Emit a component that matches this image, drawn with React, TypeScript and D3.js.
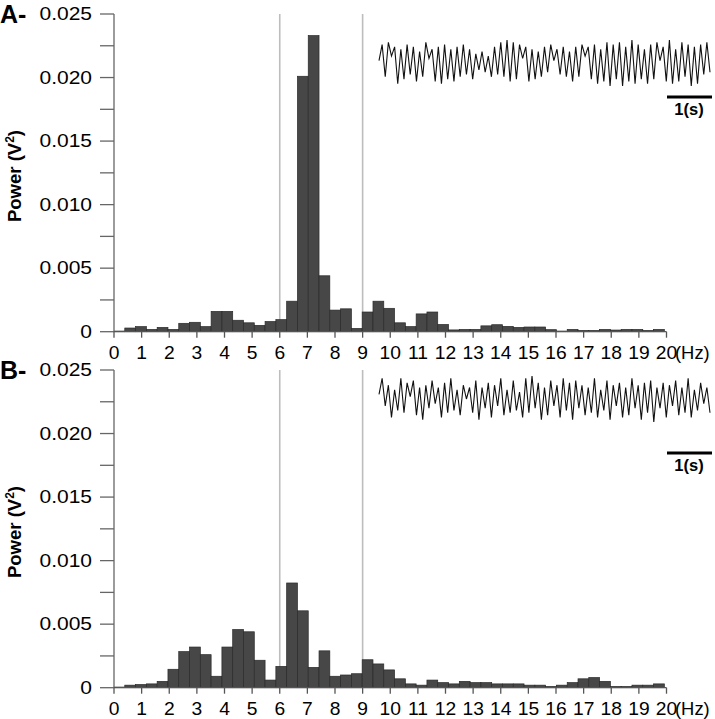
import React from "react";
import * as d3 from "d3";

// Frequency bin width (Hz) of the power spectra
const BIN_HZ = 0.390625;

// Power (V^2) per bin, panel A
const powerA = [
  0.00005, 0.00029, 0.0004, 0.00018, 0.00034, 0.00018, 0.00066, 0.00074, 0.0004, 0.0016,
  0.0016, 0.0009, 0.0007, 0.0005, 0.0008, 0.00095, 0.0024, 0.0201, 0.0233, 0.0044,
  0.0017, 0.0018, 0.00026, 0.00155, 0.0024, 0.00184, 0.0007, 0.0004, 0.0014, 0.00155,
  0.00057, 0.00014, 0.00018, 0.00018, 0.00046, 0.00055, 0.00042, 0.00034, 0.00037, 0.00037,
  0.00016, 0.00005, 0.00018, 0.0001, 0.0001, 0.00018, 0.00013, 0.00018, 0.00018, 0.0001,
  0.00018,
];

// Power (V^2) per bin, panel B
const powerB = [
  0.00005, 0.0002, 0.00025, 0.0003, 0.0005, 0.00145, 0.00284, 0.0032, 0.0026, 0.0009,
  0.0032, 0.00458, 0.0044, 0.00216, 0.0006, 0.00168, 0.00824, 0.00605, 0.0016, 0.0029,
  0.0009, 0.001, 0.0011, 0.0022, 0.00187, 0.0014, 0.0007, 0.0003, 0.0002, 0.0006,
  0.0004, 0.0003, 0.0005, 0.0004, 0.0004, 0.0003, 0.0003, 0.0003, 0.0002, 0.0002,
  0.0001, 0.0002, 0.0004, 0.0007, 0.0008, 0.0005, 0.0001, 0.0001, 0.0002, 0.0002,
  0.0003,
];

// Raw EEG inset traces (relative amplitude)
const traceA = [
  0.1, 0.8, -0.6, 0.9, 0.3, 0.7, -0.9, 0.6, -0.7, 0.8, -0.5, 0.7, -0.8, 0.5, -0.6, 0.9, 0.2, 0.6,
  -0.8, 0.7, -0.9, 0.8, -0.7, 0.6, -0.8, 0.7, -0.6, 0.8, -0.5, 0.6, -0.7, 0.4, -0.3, 0.5, -0.4, 0.3,
  -0.6, 0.7, -0.5, 0.9, -0.6, 1.0, -0.8, 0.9, -0.7, 0.8, 0.2, 0.7, -0.8, 0.6, -0.7, 0.5, -0.6, 0.7,
  -0.4, 0.8, 0.1, 0.6, -0.5, 0.7, -0.6, 0.5, -0.8, 0.7, -0.6, 0.8, 0.3, 0.7, -0.7, 0.8, -0.9, 0.6,
  -0.8, 0.9, -1.0, 0.8, -0.7, 0.9, -1.0, 0.7, -0.8, 1.0, -0.9, 0.8, -0.7, 0.6, -0.9, 0.8, -0.7, 0.9,
  0.1, 0.7, -0.8, 1.0, -0.9, 0.6, -0.8, 0.9, -0.6, 0.8, -1.0, 0.7, -0.9, 0.8, -0.5, 0.9, -0.4,
];
const traceB = [
  0.2, 0.9, -0.3, 0.6, -0.8, 0.4, -0.5, 0.9, -0.6, 0.7, 0.1, 0.8, -0.7, 0.5, -0.9, 0.6, -0.4, 0.8,
  -0.2, 0.5, -0.8, 0.7, -0.6, 0.9, -0.5, 0.4, -0.7, 0.6, 0.0, 0.5, -0.6, 0.8, -0.9, 0.5, -0.4, 0.7,
  -0.8, 0.6, -0.3, 0.9, -0.7, 0.4, -0.6, 0.8, -0.5, 0.3, -0.8, 0.9, -0.6, 1.0, -0.4, 0.7, -0.9, 0.5,
  -0.7, 0.8, -0.3, 0.6, -0.8, 0.9, -0.5, 0.7, -0.9, 0.8, -0.4, 0.6, -0.7, 0.5, -0.6, 0.9, -0.8, 0.4,
  -0.5, 0.8, -0.9, 0.6, -0.3, 0.7, -0.8, 0.5, -0.7, 0.9, -0.4, 0.6, -0.9, 0.7, -0.6, 0.8, -1.0, 0.5,
  -0.4, 0.7, -0.8, 0.6, -0.3, 0.8, -0.7, 0.5, -0.6, 0.9, -0.8, 0.4, -0.5, 0.7, -0.2, 0.5, -0.6,
];

const yTickValues = d3.range(0, 11).map((i) => i * 0.0025);
const xTickValues = d3.range(0, 21);
const bandLines = [6, 9];
const panelLabels = ["A-", "B-"];

const FONT = "'Liberation Sans', Arial, Helvetica, sans-serif";

type PanelProps = {
  top: number;
  label: string;
  power: number[];
  trace: number[];
  traceY: number;
  barY: number;
};

function Panel({ top, label, power, trace, traceY, barY }: PanelProps) {
  const zeroY = top + 317.7;
  const x = d3.scaleLinear().domain([0, 20]).range([114, 666.5]);
  const y = d3.scaleLinear().domain([0, 0.025]).range([zeroY, top]);
  const bw = x(BIN_HZ) - x(0);

  const tx = d3.scaleLinear().domain([0, trace.length - 1]).range([379, 710]);
  const ty = d3.scaleLinear().domain([-1, 1]).range([traceY + 23, traceY - 23]);
  const line = d3
    .line<number>()
    .x((_, i) => tx(i))
    .y((d) => ty(d));

  return (
    <g>
      <text x={0} y={top + 9} fontFamily={FONT} fontWeight="bold" fontSize={25}>
        {label}
      </text>
      <text
        transform={`translate(21,${top + 162}) rotate(-90)`}
        textAnchor="middle"
        fontFamily={FONT}
        fontWeight="bold"
        fontSize={18.5}
      >
        Power (V<tspan fontSize={12} dy={-7}>2</tspan>
        <tspan dy={7}>)</tspan>
      </text>
      {bandLines.map((f) => (
        <line key={f} x1={x(f)} x2={x(f)} y1={top} y2={zeroY} stroke="#bdbdbd" strokeWidth={1.6} />
      ))}
      {power.map((p, k) => (
        <rect
          key={k}
          x={x(k * BIN_HZ)}
          y={y(p)}
          width={bw}
          height={zeroY - y(p)}
          fill="#474747"
          stroke="#2a2a2a"
          strokeWidth={0.7}
        />
      ))}
      <line x1={114} x2={114} y1={top} y2={zeroY} stroke="#666" strokeWidth={1.3} />
      {yTickValues.map((v, i) => (
        <g key={i}>
          <line x1={100} x2={114} y1={y(v)} y2={y(v)} stroke="#666" strokeWidth={1.3} />
          {i % 2 === 0 && (
            <text
              transform={`translate(92,${y(v)}) scale(1.2,1)`}
              textAnchor="end"
              dy="0.36em"
              fontFamily={FONT}
              fontSize={17.5}
            >
              {v === 0 ? "0" : v.toFixed(3)}
            </text>
          )}
        </g>
      ))}
      <line x1={114} x2={666.5} y1={zeroY} y2={zeroY} stroke="#555" strokeWidth={1.3} />
      {xTickValues.map((v) => (
        <g key={v}>
          <line x1={x(v)} x2={x(v)} y1={zeroY} y2={zeroY + 6} stroke="#555" strokeWidth={1.3} />
          <text
            transform={`translate(${x(v)},${zeroY + 27}) scale(1.1,1)`}
            textAnchor="middle"
            fontFamily={FONT}
            fontSize={17.5}
          >
            {v}
          </text>
        </g>
      ))}
      <text
        transform={`translate(675,${zeroY + 27}) scale(1.05,1)`}
        fontFamily={FONT}
        fontSize={17.5}
      >
        (Hz)
      </text>
      <path d={line(trace) || ""} fill="none" stroke="#111" strokeWidth={1.1} />
      <line x1={667} x2={712} y1={barY} y2={barY} stroke="#000" strokeWidth={3.2} />
      <text
        x={689}
        y={barY + 18}
        textAnchor="middle"
        fontFamily={FONT}
        fontWeight="bold"
        fontSize={16.5}
      >
        1(s)
      </text>
    </g>
  );
}

export default function App() {
  return (
    <svg
      width={715}
      height={719}
      style={{ position: "absolute", left: 0, top: 0, background: "#fff" }}
    >
      <rect width={715} height={719} fill="#fff" />
      <Panel top={14} label={panelLabels[0]} power={powerA} trace={traceA} traceY={63} barY={97} />
      <Panel top={370} label={panelLabels[1]} power={powerB} trace={traceB} traceY={399} barY={453} />
    </svg>
  );
}
